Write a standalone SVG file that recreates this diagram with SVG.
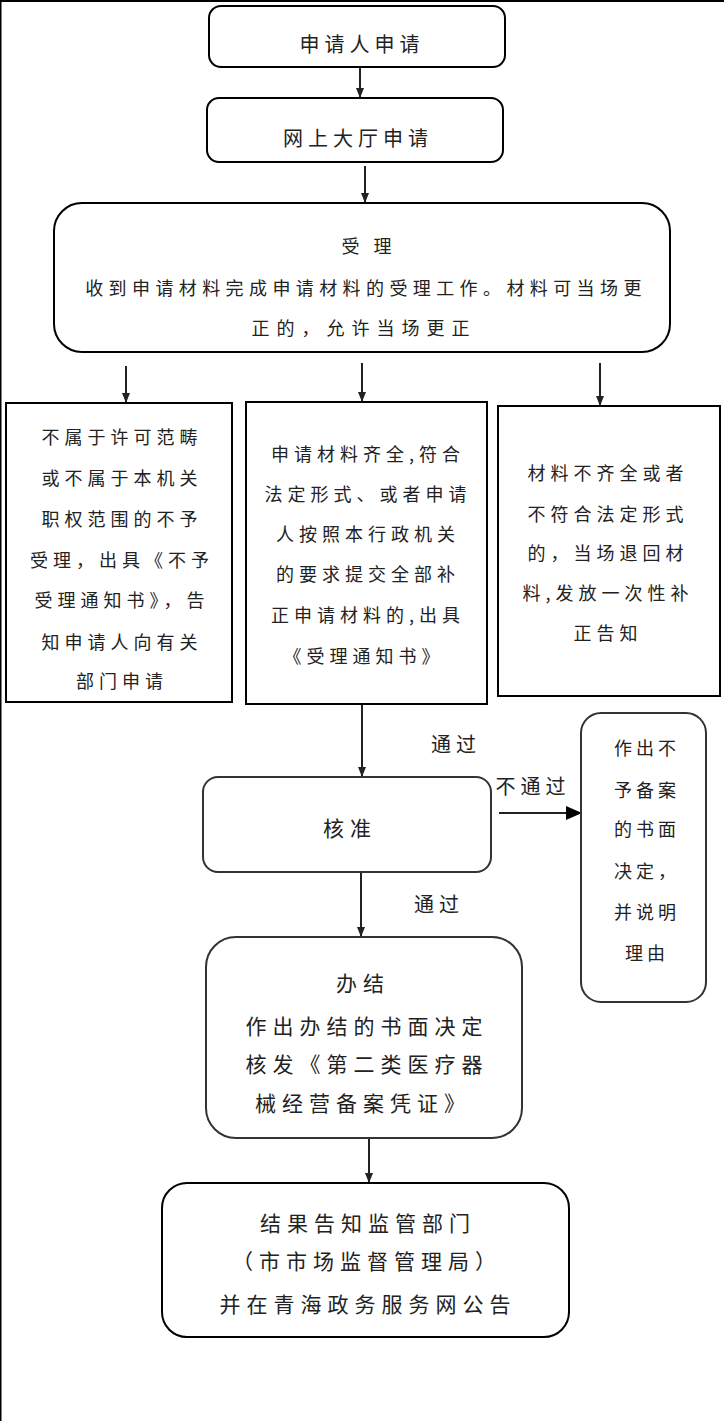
<svg xmlns="http://www.w3.org/2000/svg" width="724" height="1421" viewBox="0 0 724 1421">
<style>
.box{fill:#fff;stroke:#000;stroke-width:2}
.gbox{fill:#fff;stroke:#333;stroke-width:2}
.t{font-family:"Noto Sans CJK SC","Noto Sans CJK JP",sans-serif;fill:#222;text-anchor:middle;dominant-baseline:central}
.s{font-size:18px;letter-spacing:5px}
.m{font-size:20px;letter-spacing:5px}
.l{font-size:21px;letter-spacing:6px}
.c{stroke:#222;stroke-width:2;fill:none}
</style>
<defs>
<marker id="ah" markerWidth="10" markerHeight="10" refX="9" refY="5" orient="auto" markerUnits="userSpaceOnUse">
<path d="M0,1 L10,5 L0,9 Z" fill="#222"/>
</marker>
<marker id="ahb" markerWidth="16" markerHeight="14" refX="15" refY="7" orient="auto" markerUnits="userSpaceOnUse">
<path d="M0,0 L16,7 L0,14 Z" fill="#000"/>
</marker>
</defs>
<rect x="0" y="0" width="724" height="1421" fill="#fff"/>
<rect x="0" y="0" width="724" height="2" fill="#000"/>
<rect x="0" y="0" width="1.5" height="1421" fill="#000"/>

<g id="connectors">
<line class="c" x1="360" y1="67" x2="360" y2="97" marker-end="url(#ah)"/>
<line class="c" x1="365" y1="166" x2="365" y2="202" marker-end="url(#ah)"/>
<line class="c" x1="126" y1="366" x2="126" y2="402" marker-end="url(#ah)"/>
<line class="c" x1="362" y1="363" x2="362" y2="401" marker-end="url(#ah)"/>
<line class="c" x1="600" y1="363" x2="600" y2="405" marker-end="url(#ah)"/>
<line class="c" x1="362" y1="705" x2="362" y2="776" marker-end="url(#ah)"/>
<line class="c" x1="361" y1="873" x2="361" y2="936" marker-end="url(#ah)"/>
<line class="c" x1="369" y1="1138" x2="369" y2="1182" marker-end="url(#ah)"/>
<line class="c" x1="499" y1="813" x2="581" y2="813" marker-end="url(#ahb)"/>
<text class="t m" x="456" y="743">通过</text>
<text class="t m" x="533" y="785">不通过</text>
<text class="t m" x="439" y="903">通过</text>
</g>

<g id="n1">
<rect class="box" x="209" y="6" width="296" height="61" rx="12"/>
<text class="t m" x="362" y="43">申请人申请</text>
</g>
<g id="n2">
<rect class="box" x="207" y="98" width="296" height="64" rx="12"/>
<text class="t m" x="358" y="137">网上大厅申请</text>
</g>
<g id="n3">
<rect class="box" x="54" y="203" width="616" height="149" rx="28"/>
<text class="t s" x="369" y="245">受 理</text>
<text class="t s" x="366" y="287" style="letter-spacing:5.4px">收到申请材料完成申请材料的受理工作。材料可当场更</text>
<text class="t s" x="364" y="327" style="letter-spacing:7px">正的，允许当场更正</text>
</g>
<g id="n4">
<rect class="box" x="6" y="403" width="226" height="299"/>
<text class="t s" x="122" y="436">不属于许可范畴</text>
<text class="t s" x="122" y="477">或不属于本机关</text>
<text class="t s" x="122" y="518">职权范围的不予</text>
<text class="t s" x="122" y="559">受理，出具《不予</text>
<text class="t s" x="122" y="599">受理通知书》，告</text>
<text class="t s" x="122" y="641">知申请人向有关</text>
<text class="t s" x="122" y="680">部门申请</text>
</g>
<g id="n5">
<rect class="box" x="246" y="402" width="241" height="302"/>
<text class="t s" x="368" y="453">申请材料齐全,符合</text>
<text class="t s" x="368" y="493">法定形式、或者申请</text>
<text class="t s" x="368" y="533">人按照本行政机关</text>
<text class="t s" x="368" y="573">的要求提交全部补</text>
<text class="t s" x="368" y="614">正申请材料的,出具</text>
<text class="t s" x="364" y="655">《受理通知书》</text>
</g>
<g id="n6">
<rect class="box" x="498" y="406" width="222" height="290"/>
<text class="t s" x="608" y="472">材料不齐全或者</text>
<text class="t s" x="608" y="513">不符合法定形式</text>
<text class="t s" x="608" y="552">的，当场退回材</text>
<text class="t s" x="608" y="592">料,发放一次性补</text>
<text class="t s" x="608" y="632">正告知</text>
</g>
<g id="n7">
<rect class="gbox" x="203" y="777" width="288" height="95" rx="15"/>
<text class="t l" x="350" y="827">核准</text>
</g>
<g id="n8">
<rect class="gbox" x="581" y="713" width="125" height="289" rx="20"/>
<text class="t s" x="647" y="747" style="letter-spacing:4px">作出不</text>
<text class="t s" x="647" y="789" style="letter-spacing:4px">予备案</text>
<text class="t s" x="647" y="828" style="letter-spacing:4px">的书面</text>
<text class="t s" x="647" y="870" style="letter-spacing:4px">决定，</text>
<text class="t s" x="647" y="911" style="letter-spacing:4px">并说明</text>
<text class="t s" x="647" y="952" style="letter-spacing:4px">理由</text>
</g>
<g id="n9">
<rect class="gbox" x="206" y="937" width="316" height="201" rx="30"/>
<text class="t l" x="363" y="982">办结</text>
<text class="t l" x="367" y="1025">作出办结的书面决定</text>
<text class="t l" x="367" y="1063">核发《第二类医疗器</text>
<text class="t l" x="363" y="1102">械经营备案凭证》</text>
</g>
<g id="n10">
<rect class="box" x="162" y="1183" width="407" height="154" rx="25"/>
<text class="t l" x="368" y="1222">结果告知监管部门</text>
<text class="t l" x="367" y="1260">（市市场监督管理局）</text>
<text class="t l" x="368" y="1303">并在青海政务服务网公告</text>
</g>
</svg>
